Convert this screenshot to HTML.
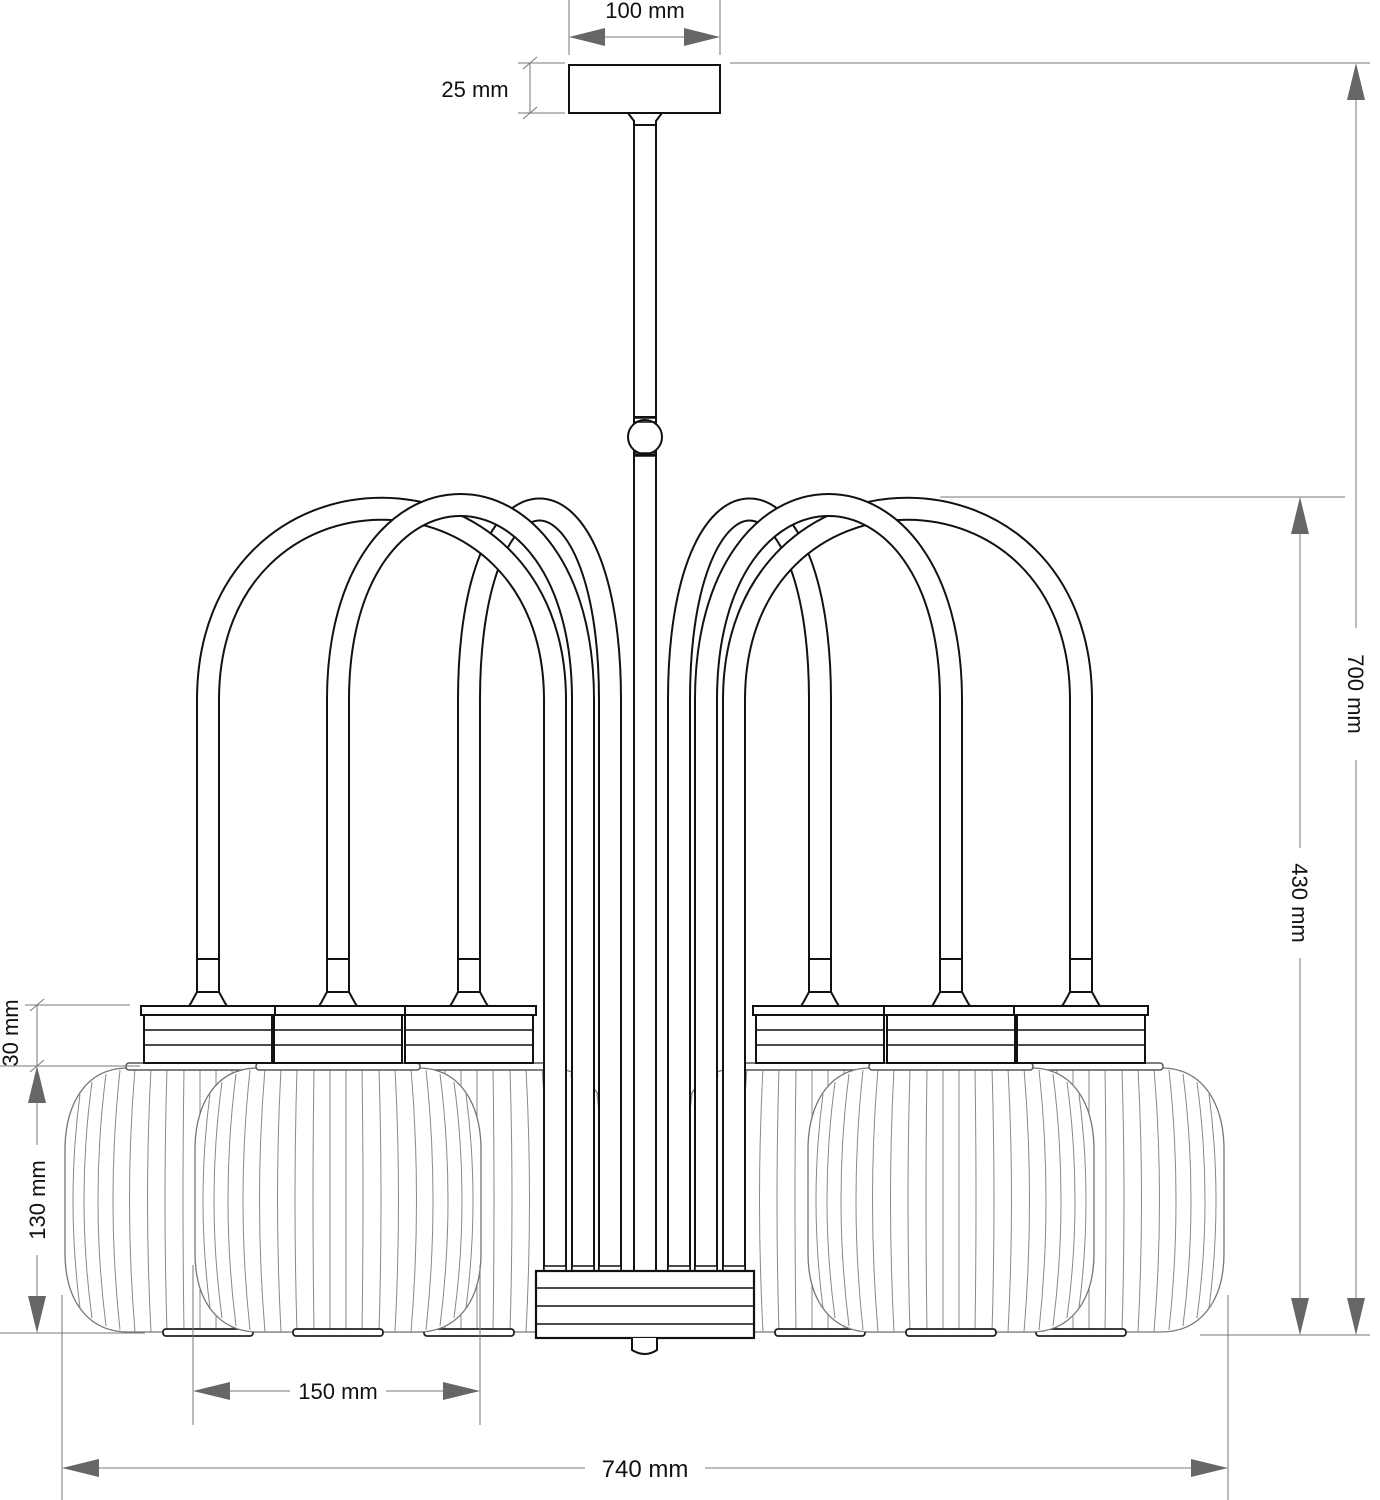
<!DOCTYPE html>
<html><head><meta charset="utf-8"><style>
html,body{margin:0;padding:0;background:#fff}
svg{display:block}
text{font-family:"Liberation Sans",Arial,sans-serif;font-size:22px;fill:#111}
</style></head><body>
<svg width="1380" height="1500" viewBox="0 0 1380 1500" xmlns="http://www.w3.org/2000/svg">
<defs>
<path id="shp" d="M-80 0 H80 C125 0 143 40 143 82 V185 C143 235 118 264 80 264 H-80 C-118 264 -143 235 -143 185 V82 C-143 40 -125 0 -80 0 Z"/>
<clipPath id="clp"><use href="#shp"/></clipPath>
<g id="shade">
<use href="#shp" fill="#fff" stroke="#777" stroke-width="1.3"/>
<g clip-path="url(#clp)" stroke="#888" stroke-width="1" fill="none">
<path d="M-8 0 V264 M8 0 V264 M-24 0 Q-26 132 -24 264 M24 0 Q26 132 24 264 M-41 0 Q-45 132 -41 264 M41 0 Q45 132 41 264 M-57 0 Q-64 132 -57 264 M57 0 Q64 132 57 264 M-73 0 Q-84 132 -73 264 M73 0 Q84 132 73 264 M-88 2 Q-102 132 -88 262 M88 2 Q102 132 88 262 M-102 6 Q-118 132 -102 258 M102 6 Q118 132 102 258 M-116 14 Q-132 132 -116 250 M116 14 Q132 132 116 250 M-128 26 Q-142 132 -128 240 M128 26 Q142 132 128 240"/>
</g>
<rect x="-82" y="-5" width="164" height="7" rx="3" fill="#fff" stroke="#555" stroke-width="1.5"/>
<rect x="-45" y="261" width="90" height="7" rx="3" fill="#fff" stroke="#222" stroke-width="1.8"/>
</g>
<g id="cup">
<rect x="-67" y="1006" width="134" height="9" fill="#fff" stroke="#111" stroke-width="2"/>
<rect x="-64" y="1015" width="128" height="48" fill="#fff" stroke="#111" stroke-width="2"/>
<path d="M-64 1030 H64 M-64 1045 H64" stroke="#111" stroke-width="1.6"/>
<path d="M-11 992 L-17 1003 L-19 1006 H19 L17 1003 L11 992 Z" fill="#fff" stroke="#111" stroke-width="2"/>
<rect x="-11" y="959" width="22" height="33" fill="#fff" stroke="#111" stroke-width="2"/>
</g>
<g id="half">
<use href="#shade" transform="translate(208,1068)"/>
<use href="#shade" transform="translate(469,1068)"/>
<use href="#shade" transform="translate(338,1068)"/>
<g fill="none" stroke-linecap="butt">
<path d="M610 1272 V700 C610 446 469 446 469 700 V960" stroke="#111" stroke-width="24"/>
<path d="M610 1272 V700 C610 446 469 446 469 700 V960" stroke="#fff" stroke-width="20"/>
<path d="M555 1272 V700 C555 445 208 445 208 700 V960" stroke="#111" stroke-width="24"/>
<path d="M555 1272 V700 C555 445 208 445 208 700 V960" stroke="#fff" stroke-width="20"/>
<path d="M583 1272 V700 C583 440 338 440 338 700 V960" stroke="#111" stroke-width="24"/>
<path d="M583 1272 V700 C583 440 338 440 338 700 V960" stroke="#fff" stroke-width="20"/>
</g>
<rect x="544" y="1266" width="22" height="6" fill="#fff" stroke="#111" stroke-width="1.5"/>
<rect x="572" y="1266" width="22" height="6" fill="#fff" stroke="#111" stroke-width="1.5"/>
<rect x="599" y="1266" width="22" height="6" fill="#fff" stroke="#111" stroke-width="1.5"/>
<use href="#cup" transform="translate(469,0)"/>
<use href="#cup" transform="translate(338,0)"/>
<use href="#cup" transform="translate(208,0)"/>
</g>
</defs>

<use href="#half"/>
<use href="#half" transform="translate(1289,0) scale(-1,1)"/>

<rect x="634" y="125" width="22" height="1147" fill="#fff" stroke="#111" stroke-width="2"/>
<path d="M628 113 L634 121 V125 H656 V121 L662 113 Z" fill="#fff" stroke="#111" stroke-width="2"/>
<rect x="569" y="65" width="151" height="48" fill="#fff" stroke="#111" stroke-width="2"/>
<rect x="634" y="417" width="22" height="38" fill="#fff" stroke="#111" stroke-width="2"/>
<circle cx="645" cy="437" r="17" fill="#fff" stroke="#111" stroke-width="2"/>
<path d="M634 418 H656 M634 422 H656 M634 453 H656 M634 456 H656" stroke="#111" stroke-width="1.5"/>
<rect x="536" y="1271" width="218" height="67" fill="#fff" stroke="#111" stroke-width="2.2"/>
<path d="M536 1288 H754 M536 1306 H754 M536 1324 H754" stroke="#111" stroke-width="1.6"/>
<path d="M632 1338 V1350 Q645 1358 657 1350 V1338" fill="#fff" stroke="#111" stroke-width="2"/>

<g stroke="#777" stroke-width="1" fill="none">
<path d="M569 0 V55 M720 0 V55 M600 37 H690"/>
<path d="M518 63 H565 M518 113 H565 M530 63 V113 M523 69 L537 57 M523 119 L537 107"/>
<path d="M730 63 H1370 M940 497 H1345 M1200 1335 H1370"/>
<path d="M1356 95 V628 M1356 760 V1305"/>
<path d="M1300 530 V848 M1300 958 V1305"/>
<path d="M25 1005 H130 M0 1066 H140 M0 1333 H145 M37 1005 V1066 M30 1011 L44 999 M30 1072 L44 1060"/>
<path d="M37 1100 V1145 M37 1255 V1300"/>
<path d="M193 1265 V1425 M480 1265 V1425 M225 1391 H290 M386 1391 H448"/>
<path d="M62 1295 V1500 M1228 1295 V1500 M95 1468 H585 M705 1468 H1195"/>
</g>
<g fill="#666">
<polygon points="569,37 605,28 605,46"/><polygon points="720,37 684,28 684,46"/>
<polygon points="1356,63 1347,100 1365,100"/><polygon points="1356,1335 1347,1298 1365,1298"/>
<polygon points="1300,497 1291,534 1309,534"/><polygon points="1300,1335 1291,1298 1309,1298"/>
<polygon points="37,1066 28,1103 46,1103"/><polygon points="37,1333 28,1296 46,1296"/>
<polygon points="193,1391 230,1382 230,1400"/><polygon points="480,1391 443,1382 443,1400"/>
<polygon points="62,1468 99,1459 99,1477"/><polygon points="1228,1468 1191,1459 1191,1477"/>
</g>
<text x="645" y="18" text-anchor="middle">100 mm</text>
<text x="475" y="97" text-anchor="middle">25 mm</text>
<text transform="translate(1356,694) rotate(90)" text-anchor="middle" dy="8">700 mm</text>
<text transform="translate(1300,903) rotate(90)" text-anchor="middle" dy="8">430 mm</text>
<text transform="translate(10,1033) rotate(-90)" text-anchor="middle" dy="8">30 mm</text>
<text transform="translate(37,1200) rotate(-90)" text-anchor="middle" dy="8">130 mm</text>
<text x="338" y="1399" text-anchor="middle">150 mm</text>
<text x="645" y="1477" text-anchor="middle" style="font-size:24px">740 mm</text>
</svg>
</body></html>
